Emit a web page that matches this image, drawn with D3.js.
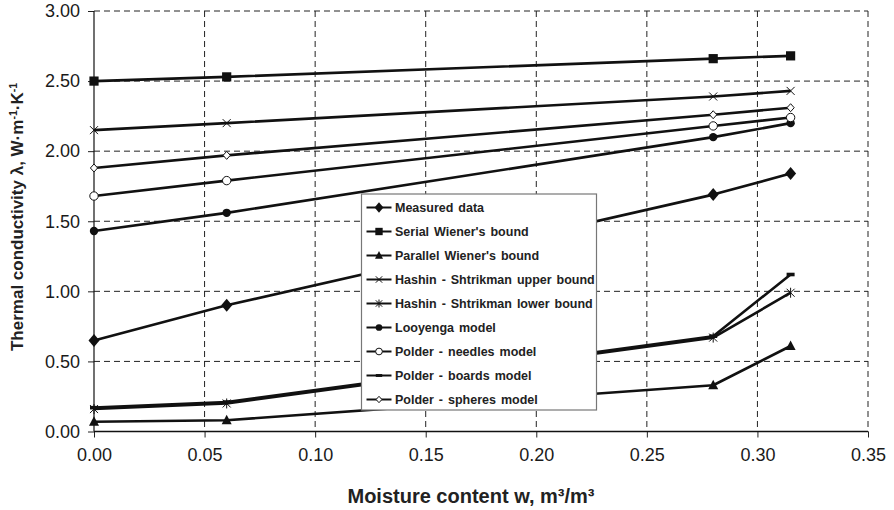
<!DOCTYPE html>
<html>
<head>
<meta charset="utf-8">
<script src="https://cdn.jsdelivr.net/npm/d3@7"></script>
<style>
  body { margin: 0; background: #fff; }
  svg { display: block; font-family: "Liberation Sans", Arial, sans-serif; }
</style>
</head>
<body>
<div id="chart"></div>
<script>
// ── Data ─────────────────────────────────────────────────────────
const moisture = [0.0, 0.06, 0.28, 0.315];

const measured   = [0.65, 0.90, 1.69, 1.84];
const serial     = [2.50, 2.53, 2.66, 2.68];
const parallel   = [0.07, 0.08, 0.33, 0.61];
const hsUpper    = [2.15, 2.20, 2.39, 2.43];
const hsLower    = [0.16, 0.20, 0.67, 0.99];
const looyenga   = [1.43, 1.56, 2.10, 2.20];
const needles    = [1.68, 1.79, 2.18, 2.24];
const boards     = [0.17, 0.21, 0.68, 1.12];
const spheres    = [1.88, 1.97, 2.26, 2.31];

const xTicks = [0, 0.05, 0.10, 0.15, 0.20, 0.25, 0.30, 0.35];
const yTicks = [0, 0.5, 1.0, 1.5, 2.0, 2.5, 3.0];

const series = [
  { name: 'Measured data',                   values: measured, marker: 'diamond' },
  { name: "Serial Wiener's bound",           values: serial,   marker: 'square' },
  { name: "Parallel Wiener's bound",         values: parallel, marker: 'triangle' },
  { name: 'Hashin - Shtrikman upper bound',  values: hsUpper,  marker: 'x' },
  { name: 'Hashin - Shtrikman lower bound',  values: hsLower,  marker: 'star' },
  { name: 'Looyenga model',                  values: looyenga, marker: 'circle' },
  { name: 'Polder - needles model',          values: needles,  marker: 'ocircle' },
  { name: 'Polder - boards model',           values: boards,   marker: 'dash' },
  { name: 'Polder - spheres model',          values: spheres,  marker: 'odiamond' },
];

// ── Layout ───────────────────────────────────────────────────────
const W = 894, H = 510;
const mLeft = 94, mRight = 868, mTop = 11, mBottom = 431.5;

const svg = d3.select('#chart').append('svg')
  .attr('width', W).attr('height', H);

const x = d3.scaleLinear().domain([0, 0.35]).range([mLeft, mRight]);
const y = d3.scaleLinear().domain([0, 3]).range([mBottom, mTop]);

// Grid (dashed)
const grid = svg.append('g');
grid.selectAll('.hgrid').data(yTicks.filter(d => d > 0)).enter()
  .append('line')
  .attr('x1', mLeft).attr('x2', mRight)
  .attr('y1', d => y(d)).attr('y2', d => y(d))
  .attr('stroke', '#222').attr('stroke-width', 1)
  .attr('stroke-dasharray', '6,4');
grid.selectAll('.vgrid').data(xTicks.filter(d => d > 0)).enter()
  .append('line')
  .attr('x1', d => x(d)).attr('x2', d => x(d))
  .attr('y1', mTop).attr('y2', mBottom)
  .attr('stroke', '#222').attr('stroke-width', 1)
  .attr('stroke-dasharray', '6,4');

// Axes
const yAxis = d3.axisLeft(y).tickValues(yTicks).tickFormat(d3.format('.2f'))
  .tickSize(6).tickPadding(8);
const xAxis = d3.axisBottom(x).tickValues(xTicks).tickFormat(d3.format('.2f'))
  .tickSize(6).tickPadding(11);

const gy = svg.append('g').attr('transform', `translate(${mLeft},0)`).call(yAxis);
const gx = svg.append('g').attr('transform', `translate(0,${mBottom})`).call(xAxis);
gy.select('.domain').remove();
gx.select('.domain').remove();
[gy, gx].forEach(g => {
  g.selectAll('text').attr('font-size', 18).attr('fill', '#1a1a1a')
    .attr('font-family', '"Liberation Sans", Arial, sans-serif');
  g.selectAll('line').attr('stroke', '#222');
});
svg.append('line').attr('x1', mLeft).attr('x2', mLeft).attr('y1', mTop).attr('y2', mBottom)
  .attr('stroke', '#111').attr('stroke-width', 1.2);
svg.append('line').attr('x1', mLeft).attr('x2', mRight).attr('y1', mBottom).attr('y2', mBottom)
  .attr('stroke', '#111').attr('stroke-width', 1.5);

// ── Markers ──────────────────────────────────────────────────────
function drawMarker(g, type, cx, cy, s) {
  const k = s / 10;
  switch (type) {
    case 'diamond':
      g.append('path').attr('d', `M${cx},${cy - 6.5 * k}L${cx + 5.5 * k},${cy}L${cx},${cy + 6.5 * k}L${cx - 5.5 * k},${cy}Z`)
        .attr('fill', '#111');
      break;
    case 'square':
      g.append('rect').attr('x', cx - 4.6 * k).attr('y', cy - 4.6 * k)
        .attr('width', 9.2 * k).attr('height', 9.2 * k).attr('fill', '#111');
      break;
    case 'triangle':
      g.append('path').attr('d', `M${cx},${cy - 5.5 * k}L${cx + 5 * k},${cy + 4 * k}L${cx - 5 * k},${cy + 4 * k}Z`)
        .attr('fill', '#111');
      break;
    case 'x':
      g.append('path').attr('d', `M${cx - 4 * k},${cy - 4 * k}L${cx + 4 * k},${cy + 4 * k}M${cx - 4 * k},${cy + 4 * k}L${cx + 4 * k},${cy - 4 * k}`)
        .attr('stroke', '#111').attr('stroke-width', 1).attr('fill', 'none');
      break;
    case 'star':
      g.append('path').attr('d', `M${cx - 4 * k},${cy - 4 * k}L${cx + 4 * k},${cy + 4 * k}M${cx - 4 * k},${cy + 4 * k}L${cx + 4 * k},${cy - 4 * k}M${cx},${cy - 5 * k}L${cx},${cy + 5 * k}`)
        .attr('stroke', '#111').attr('stroke-width', 1).attr('fill', 'none');
      break;
    case 'circle':
      g.append('circle').attr('cx', cx).attr('cy', cy).attr('r', 4.2 * k).attr('fill', '#111');
      break;
    case 'ocircle':
      g.append('circle').attr('cx', cx).attr('cy', cy).attr('r', 4.2 * k)
        .attr('fill', '#fff').attr('stroke', '#111').attr('stroke-width', 1);
      break;
    case 'odiamond':
      g.append('path').attr('d', `M${cx},${cy - 4 * k}L${cx + 3.6 * k},${cy}L${cx},${cy + 4 * k}L${cx - 3.6 * k},${cy}Z`)
        .attr('fill', '#fff').attr('stroke', '#111').attr('stroke-width', 1);
      break;
    case 'dash':
      g.append('rect').attr('x', cx - 4 * k).attr('y', cy - 1.8 * k)
        .attr('width', 8 * k).attr('height', 3.6 * k).attr('fill', '#111');
      break;
  }
}

// ── Series ───────────────────────────────────────────────────────
const line = d3.line().x((d, i) => x(moisture[i])).y(d => y(d));
const plot = svg.append('g');
series.forEach(s => {
  plot.append('path').datum(s.values)
    .attr('d', line)
    .attr('fill', 'none').attr('stroke', '#111').attr('stroke-width', 2.6)
    .attr('stroke-linejoin', 'round');
});
series.forEach(s => {
  const mg = plot.append('g');
  s.values.forEach((v, i) => drawMarker(mg, s.marker, x(moisture[i]), y(v), 10));
});

// ── Legend ───────────────────────────────────────────────────────
const lx = 361.5, ly = 194, lw = 235, lh = 216;
const legend = svg.append('g');
legend.append('rect').attr('x', lx).attr('y', ly).attr('width', lw).attr('height', lh)
  .attr('fill', '#fff').attr('stroke', '#777').attr('stroke-width', 1.2);
series.forEach((s, i) => {
  const cy = ly + 13.5 + i * 24;
  legend.append('line').attr('x1', lx + 5).attr('x2', lx + 30).attr('y1', cy).attr('y2', cy)
    .attr('stroke', '#111').attr('stroke-width', 2);
  drawMarker(legend, s.marker, lx + 17.5, cy, 8);
  legend.append('text').attr('x', lx + 33.5).attr('y', cy + 4.5)
    .attr('font-size', 12.5).attr('font-weight', 700).attr('fill', '#222')
    .attr('word-spacing', 1.5)
    .text(s.name);
});

// ── Axis titles ──────────────────────────────────────────────────
const yt = svg.append('text')
  .attr('transform', `translate(23,217) rotate(-90)`)
  .attr('text-anchor', 'middle')
  .attr('font-size', 17).attr('font-weight', 700).attr('fill', '#222');
yt.append('tspan').text('Thermal conductivity λ, W·m');
yt.append('tspan').attr('font-size', 10.5).attr('dy', -6.5).text('-1');
yt.append('tspan').attr('dy', 6.5).text('·K');
yt.append('tspan').attr('font-size', 10.5).attr('dy', -6.5).text('-1');

const xt = svg.append('text')
  .attr('x', 471).attr('y', 503)
  .attr('text-anchor', 'middle')
  .attr('font-size', 20).attr('font-weight', 700).attr('fill', '#222');
xt.text('Moisture content w, m³/m³');
</script>
</body>
</html>
